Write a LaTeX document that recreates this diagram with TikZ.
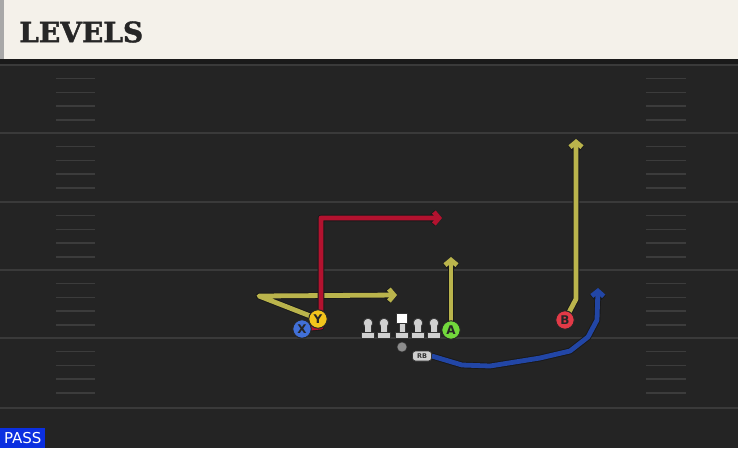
\documentclass[tikz,border=0pt]{standalone}
\usepackage{fontspec}
\setmainfont{DejaVu Sans}
\newfontfamily\titlefont[BoldFeatures={FakeBold=1.5}]{DejaVu Serif}
\usetikzlibrary{arrows.meta}
\definecolor{fieldbg}{HTML}{242424}
\definecolor{cream}{HTML}{F4F1EA}
\definecolor{stripgray}{HTML}{A8A8A8}
\definecolor{band}{HTML}{1A1A1A}
\definecolor{yardcol}{HTML}{3A3A3A}
\definecolor{hashcol}{HTML}{3C3C3C}
\definecolor{titlecol}{HTML}{262626}
\definecolor{ryellow}{HTML}{BAB44C}
\definecolor{rred}{HTML}{B3122F}
\definecolor{rblue}{HTML}{2246A6}
\definecolor{pX}{HTML}{4170D8}
\definecolor{pY}{HTML}{F2C41C}
\definecolor{pA}{HTML}{72D83C}
\definecolor{pB}{HTML}{E23A47}
\definecolor{linecol}{HTML}{D0D0D0}
\definecolor{passblue}{HTML}{0B2FE0}
\pgfdeclarelayer{field}
\pgfdeclarelayer{routes}
\pgfsetlayers{field,routes,main}
\tikzset{
  yard/.style={draw=yardcol, line width=2pt},
  hash/.style={draw=hashcol, line width=1.5pt},
  route/.style={draw=#1, line width=4.8pt, line join=round,
    preaction={draw=black!90, line width=6.6pt, line join=round},
    -{Straight Barb[length=5pt,width=12pt,line join=miter]}},
  player/.style={circle, draw=black!85, line width=1pt, fill=#1, minimum size=18.5pt,
    inner sep=0pt, text=black!85, font=\bfseries\fontsize{12}{12}\selectfont},
  lm/.style={fill=linecol, draw=black!80, line width=0.8pt},
}
\begin{document}
\begin{tikzpicture}[x=1pt,y=-1pt]
\useasboundingbox (0,0) rectangle (738,448);
\begin{pgfonlayer}{field}
\fill[fieldbg] (0,0) rectangle (738,448);
\fill[cream] (0,0) rectangle (738,59);
\fill[stripgray] (0,0) rectangle (4,59);
\fill[band] (0,59) rectangle (738,64);
\foreach \y in {65,133,202,270,338,408} \draw[yard] (0,\y) -- (738,\y);
\foreach \b in {65,133,202,270,338} {
  \foreach \k in {13.7,27.4,41.1,54.8} {
    \draw[hash] (56,\b+\k) -- (95,\b+\k);
    \draw[hash] (646,\b+\k) -- (686,\b+\k);
  }
}
\end{pgfonlayer}
\node[anchor=west, inner sep=0pt, text=titlecol, font=\titlefont\bfseries\fontsize{28}{28}\selectfont] (title) at (19,32) {LEVELS};
% linemen
\foreach \x/\n in {368/l1,384/l2,418/l4,434/l5} {
  \filldraw[lm] (\x-3,323) rectangle (\x+3,334);
  \filldraw[lm] (\x,323) circle (4.8);
  \fill[linecol] (\x-2.6,322) rectangle (\x+2.6,334);
  \filldraw[lm] (\x-6.5,332.5) rectangle (\x+6.5,338.5);
  \coordinate (\n) at (\x,330);
}
\filldraw[lm] (399,322) rectangle (405,334);
\filldraw[lm] (395.5,332.5) rectangle (408.5,338.5);
\filldraw[fill=white, draw=black!80, line width=0.8pt] (396.5,313) rectangle (407.5,323.5);
\coordinate (C) at (402,330);
% ball / QB
\node[circle, fill=black!45, draw=black!80, line width=0.5pt, minimum size=10pt, inner sep=0pt] (QB) at (402,347) {};
\node[rounded corners=3pt, fill=linecol, draw=black!80, line width=0.7pt, minimum width=19pt, minimum height=10pt, inner sep=0pt, text=black!80, font=\bfseries\fontsize{6.5}{6.5}\selectfont] (RB) at (422,356) {RB};
% players
\node[player=pX] (X) at (302,329) {X};
\node[player=pY] (Y) at (318,319) {Y};
\node[player=pA] (A) at (451,330) {A};
\node[player=pB] (B) at (565,320) {B};
% route points
\coordinate (r1) at (321,327);
\coordinate (r2) at (321,218);
\coordinate (r3) at (442,218);
\coordinate (y1) at (259,296);
\coordinate (y2) at (397,295);
\coordinate (a1) at (451,257);
\coordinate (b1) at (576,299);
\coordinate (b2) at (576,139);
\coordinate (k1) at (462,365);
\coordinate (k2) at (490,366);
\coordinate (k3) at (540,358);
\coordinate (k4) at (570,351);
\coordinate (k5) at (588,337);
\coordinate (k6) at (597,320);
\coordinate (k7) at (598,288);
\begin{pgfonlayer}{routes}
\draw[route=ryellow] (Y.center) -- (y1) -- (y2);
\draw[route=rred] (X.center) -- (r1) -- (r2) -- (r3);
\draw[route=ryellow] (A.center) -- (a1);
\draw[route=ryellow] (B.center) -- (b1) -- (b2);
\draw[route=rblue] (RB.east) -- (k1) -- (k2) -- (k3) -- (k4) -- (k5) -- (k6) -- (k7);
\end{pgfonlayer}
% PASS label
\node[fill=passblue, text=white, anchor=south west, minimum width=45pt, minimum height=20pt, inner sep=0pt, font=\fontsize{15}{15}\selectfont] (pass) at (0,448) {PASS};
\end{tikzpicture}
\end{document}
